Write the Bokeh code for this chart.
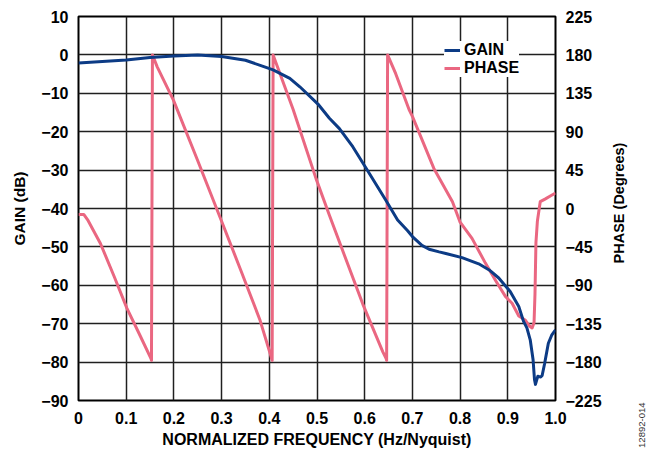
import math
from bokeh.plotting import figure
from bokeh.layouts import row
from bokeh.models import Range1d, LinearAxis, FixedTicker, Legend, LegendItem, Label
from bokeh.embed import file_html
from bokeh.resources import INLINE

# ---- data ----
gain_freq = [0.0, 0.05, 0.1, 0.15, 0.2, 0.25, 0.3, 0.35, 0.387, 0.408, 0.443, 0.464,
             0.502, 0.526, 0.547, 0.575, 0.603, 0.644, 0.669, 0.69, 0.70, 0.72, 0.735,
             0.756, 0.77, 0.804, 0.839, 0.861, 0.881, 0.905, 0.923, 0.933, 0.94, 0.947,
             0.953, 0.956, 0.958, 0.961, 0.963, 0.969, 0.972, 0.977, 0.985, 0.992, 1.0]
gain_db = [-2.1, -1.7, -1.3, -0.7, -0.3, 0.0, -0.4, -1.4, -3.0, -3.9, -6.1, -8.3,
           -12.8, -16.5, -19.2, -23.9, -29.5, -37.8, -43.0, -45.8, -47.3, -49.6, -50.6,
           -51.3, -51.7, -52.8, -54.4, -56.0, -58.1, -61.6, -65.5, -69.4, -71.1, -74.2,
           -79.4, -84.6, -85.8, -84.5, -83.7, -83.9, -83.5, -80.5, -75.1, -73.0, -71.6]

phase_freq = [0.0, 0.011, 0.02, 0.046, 0.075, 0.1016, 0.13, 0.152, 0.153,
              0.155, 0.165, 0.199, 0.25, 0.30, 0.34, 0.38, 0.404, 0.406,
              0.408, 0.45, 0.498, 0.526, 0.596, 0.638, 0.645, 0.646,
              0.648, 0.665, 0.693, 0.70, 0.745, 0.784, 0.80, 0.825, 0.853, 0.875,
              0.895, 0.909, 0.923, 0.937, 0.946, 0.951, 0.955, 0.957, 0.959, 0.962,
              0.968, 0.978, 0.99, 1.0]
phase_deg = [-7, -7, -14, -41, -80, -117, -150, -176, -178,
             180, 166, 127, 56, -15, -72, -130, -174, -178,
             180, 116, 35, -8, -112, -168, -176, -178,
             180, 158, 116, 108, 47, 8, -16, -35, -64, -85,
             -103, -111, -126, -131, -138, -140, -134, -100, -40, -15,
             8, 11, 15, 18]

x_ticks = [0, 0.1, 0.2, 0.3, 0.4, 0.5, 0.6, 0.7, 0.8, 0.9, 1.0]
x_labels = ["0", "0.1", "0.2", "0.3", "0.4", "0.5", "0.6", "0.7", "0.8", "0.9", "1.0"]
gain_ticks = [10, 0, -10, -20, -30, -40, -50, -60, -70, -80, -90]
gain_labels = ["10", "0", "\u221210", "\u221220", "\u221230", "\u221240", "\u221250",
               "\u221260", "\u221270", "\u221280", "\u221290"]
phase_ticks = [225, 180, 135, 90, 45, 0, -45, -90, -135, -180, -225]
phase_labels = ["225", "180", "135", "90", "45", "0", "\u221245", "\u221290",
                "\u2212135", "\u2212180", "\u2212225"]
figure_id = "12892-014"

FONT = "Liberation Sans"
GAIN_COLOR = "#0c3b85"
PHASE_COLOR = "#ea6781"

p = figure(width=604, height=451, output_backend="svg", toolbar_location=None,
           x_range=Range1d(0, 1), y_range=Range1d(-90, 10),
           min_border_left=78, min_border_right=47, min_border_top=16, min_border_bottom=51)
p.extra_y_ranges = {"phase": Range1d(-225, 225)}
p.background_fill_color = "white"
p.border_fill_color = "white"
p.outline_line_color = "black"
p.outline_line_width = 2

def style_axis(ax):
    ax.axis_line_color = None
    ax.major_tick_line_color = None
    ax.minor_tick_line_color = None
    ax.major_tick_out = 0
    ax.major_tick_in = 0
    ax.minor_tick_out = 0
    ax.major_label_text_font = FONT
    ax.major_label_text_font_style = "bold"
    ax.major_label_text_font_size = "16px"
    ax.major_label_text_color = "black"
    ax.axis_label_text_font = FONT
    ax.axis_label_text_font_style = "bold"
    ax.axis_label_text_font_size = "16px"
    ax.axis_label_text_color = "black"

xa = p.xaxis[0]
xa.ticker = FixedTicker(ticks=x_ticks)
xa.major_label_overrides = {t: l for t, l in zip(x_ticks, x_labels)}
xa.axis_label = "NORMALIZED FREQUENCY (Hz/Nyquist)"
style_axis(xa)
xa.major_label_standoff = 11
xa.axis_label_standoff = 4

ya = p.yaxis[0]
ya.ticker = FixedTicker(ticks=gain_ticks)
ya.major_label_overrides = {t: l for t, l in zip(gain_ticks, gain_labels)}
ya.axis_label = "GAIN (dB)"
style_axis(ya)
ya.axis_label_text_font_size = "15.5px"
ya.major_label_standoff = 10
ya.axis_label_standoff = 10

ra = LinearAxis(y_range_name="phase", ticker=FixedTicker(ticks=phase_ticks))
ra.major_label_overrides = {t: l for t, l in zip(phase_ticks, phase_labels)}
style_axis(ra)
ra.major_label_standoff = 10
p.add_layout(ra, "right")

for g in (p.xgrid[0], p.ygrid[0]):
    g.grid_line_color = "#202020"
    g.grid_line_width = 1.5
p.xgrid[0].ticker = FixedTicker(ticks=x_ticks)
p.ygrid[0].ticker = FixedTicker(ticks=gain_ticks)

r_phase = p.line(phase_freq, phase_deg, y_range_name="phase", line_color=PHASE_COLOR,
                 line_width=3, line_join="round")
r_gain = p.line(gain_freq, gain_db, line_color=GAIN_COLOR, line_width=3, line_join="round")

legend = Legend(items=[LegendItem(label="GAIN", renderers=[r_gain]),
                       LegendItem(label="PHASE", renderers=[r_phase])],
                location=(366, 323), orientation="vertical",
                background_fill_color="white", background_fill_alpha=1.0,
                border_line_color=None, margin=0, padding=4, spacing=0,
                glyph_width=16, glyph_height=16, label_height=16, label_standoff=4,
                label_text_font=FONT, label_text_font_style="bold",
                label_text_font_size="16px", label_text_color="black")
p.add_layout(legend, "center")

# narrow strip on the right for the phase axis title and the figure id
# (its frame is aligned with the main plot frame: page y 16..400)
side = figure(width=43, height=451, output_backend="svg", toolbar_location=None,
              x_range=Range1d(604, 647), y_range=Range1d(400, 16),
              x_axis_type=None, y_axis_type=None,
              min_border_left=0, min_border_right=0, min_border_top=16, min_border_bottom=51)
side.outline_line_color = None
side.background_fill_color = "white"
side.border_fill_color = "white"
side.add_layout(Label(x=618, y=202.5, text="PHASE (Degrees)", angle=math.pi / 2,
                      text_align="center", text_baseline="middle",
                      text_font=FONT, text_font_style="bold", text_font_size="14.5px",
                      text_color="black"))

id_axis = LinearAxis(ticker=FixedTicker(ticks=[641]))
id_axis.major_label_overrides = {641: figure_id}
id_axis.major_label_orientation = math.pi / 2
id_axis.axis_line_color = None
id_axis.major_tick_line_color = None
id_axis.minor_tick_line_color = None
id_axis.major_tick_out = 0
id_axis.major_tick_in = 0
id_axis.minor_tick_out = 0
id_axis.major_label_standoff = 2
id_axis.major_label_text_font = FONT
id_axis.major_label_text_font_size = "9.5px"
id_axis.major_label_text_color = "#333333"
side.add_layout(id_axis, "below")

layout = row(p, side)

open("out.html", "w").write(file_html(layout, INLINE))
